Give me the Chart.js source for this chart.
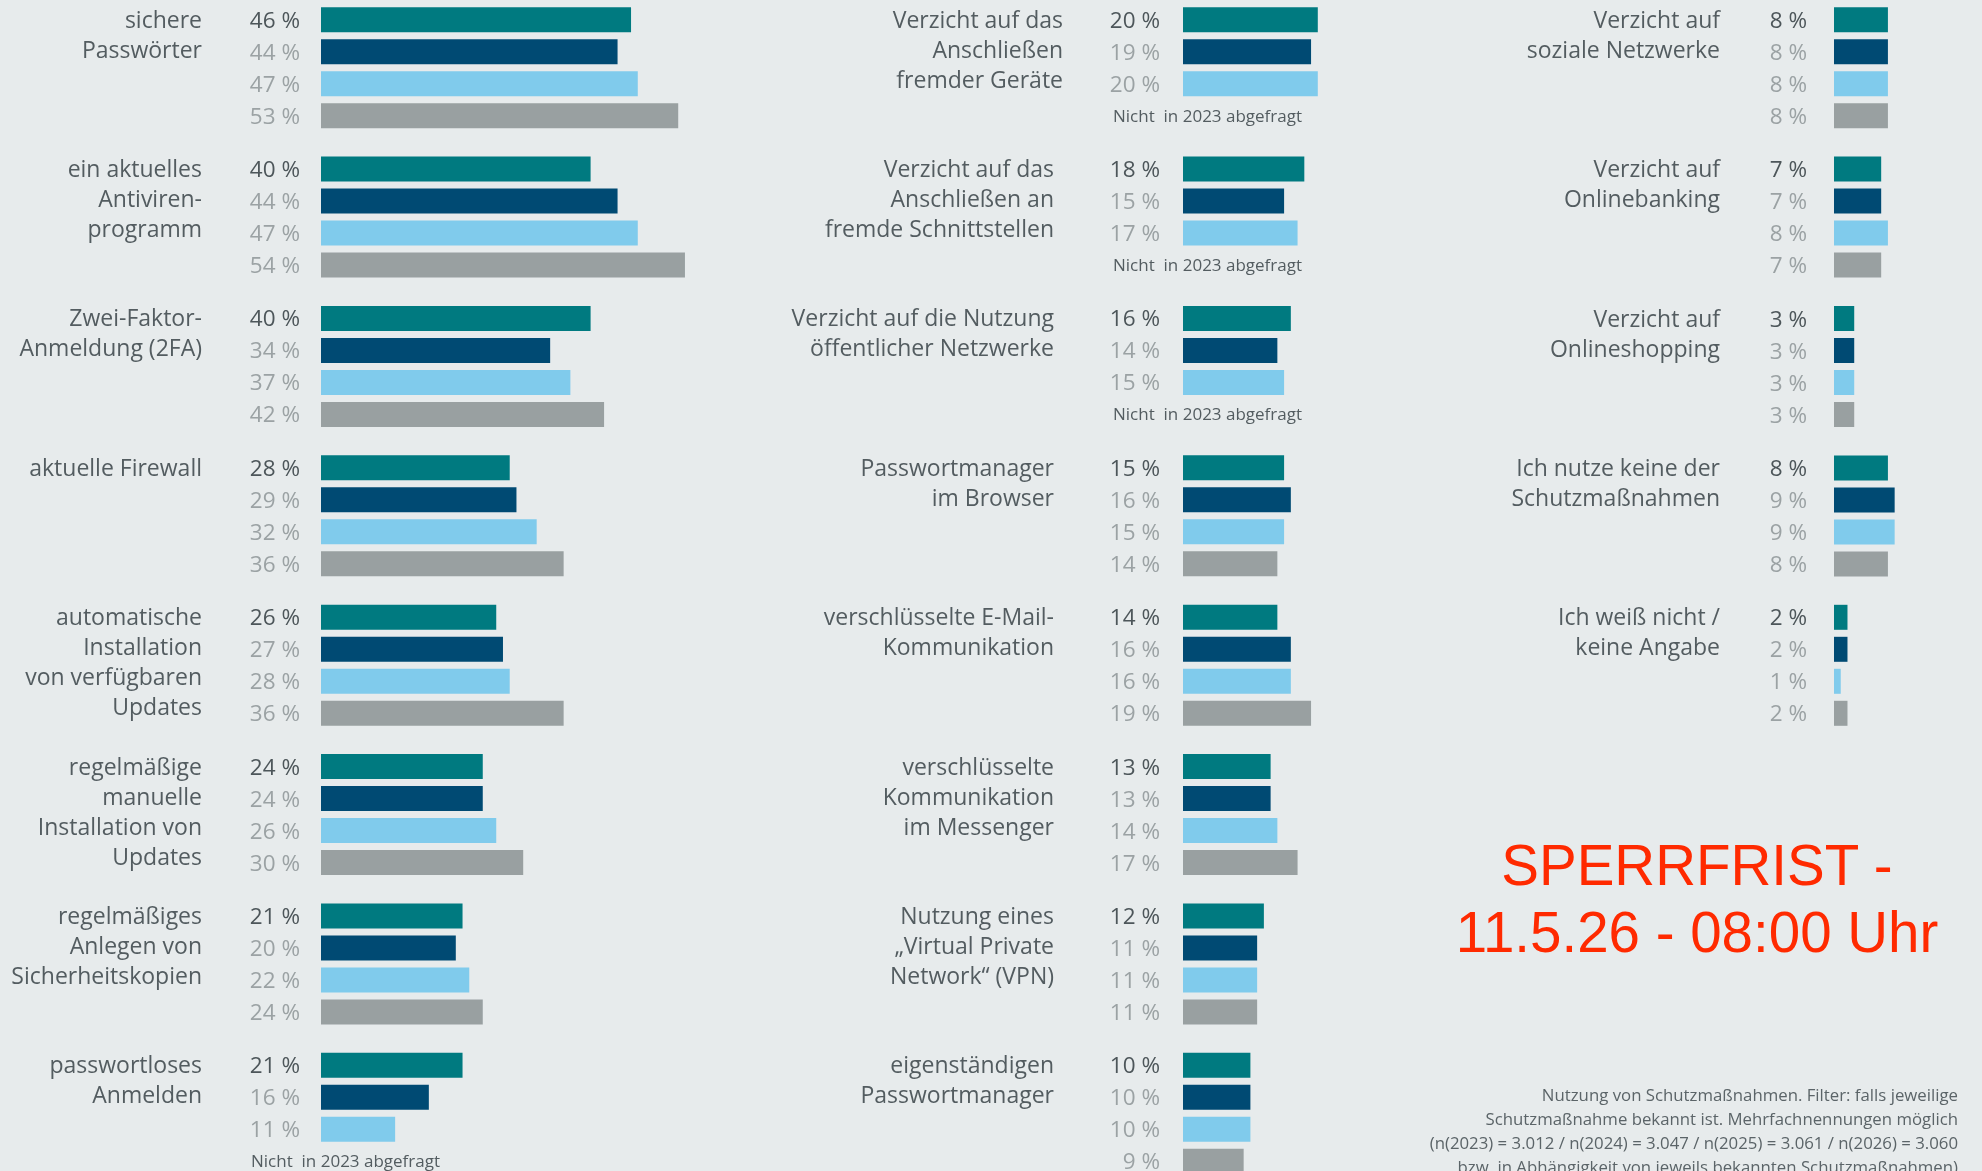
<!DOCTYPE html>
<html lang="de">
<head>
<meta charset="utf-8">
<title>Nutzung von Schutzmaßnahmen</title>
<script src="https://cdn.jsdelivr.net/npm/chart.js@4.4.1/dist/chart.umd.min.js"></script>
<style>
    html, body { margin: 0; padding: 0; }
    body {
        width: 1982px; height: 1171px; overflow: hidden;
        background: #e7ebec; position: relative;
        font-family: "Open Sans", sans-serif;
    }
    .col { position: absolute; top: -6.7px; }
    .sperrfrist {
        position: absolute; left: 1397px; top: 832px; width: 600px;
        text-align: center; color: #ff2a00;
        font-family: "Liberation Sans", Arial, sans-serif;
        font-size: 56.5px; line-height: 67px;
    }
    .footnote {
        position: absolute; right: 24px; top: 1083px;
        text-align: right; color: #5b6468;
        font-size: 16.8px; line-height: 24px; white-space: nowrap;
    }
</style>
</head>
<body>

<div class="col" id="wrap1" style="left:0px;width:725px;height:1195px"><canvas id="col1"></canvas></div>
<div class="col" id="wrap2" style="left:760px;width:693px;height:1195px"><canvas id="col2"></canvas></div>
<div class="col" id="wrap3" style="left:1480px;width:455px;height:747px"><canvas id="col3"></canvas></div>

<div class="sperrfrist">SPERRFRIST -<br>11.5.26 - 08:00 Uhr</div>

<div class="footnote">
    Nutzung von Schutzmaßnahmen. Filter: falls jeweilige<br>
    Schutzmaßnahme bekannt ist. Mehrfachnennungen möglich<br>
    (n(2023) = 3.012 / n(2024) = 3.047 / n(2025) = 3.061 / n(2026) = 3.060<br>
    bzw. in Abhängigkeit von jeweils bekannten Schutzmaßnahmen)
</div>

<script>
// ============================================
// Schutzmaßnahmen 2023–2026 — grouped bars
// ============================================

const YEARS = ['2026', '2025', '2024', '2023'];
const YEAR_COLORS = ['#007a80', '#004a73', '#80cbec', '#99a0a1'];
const NOTE_TEXT = 'Nicht  in 2023 abgefragt';

// --- column 1
const col1Labels = [
    ['sichere', 'Passwörter'],
    ['ein aktuelles', 'Antiviren-', 'programm'],
    ['Zwei-Faktor-', 'Anmeldung (2FA)'],
    ['aktuelle Firewall'],
    ['automatische', 'Installation', 'von verfügbaren', 'Updates'],
    ['regelmäßige', 'manuelle', 'Installation von', 'Updates'],
    ['regelmäßiges', 'Anlegen von', 'Sicherheitskopien'],
    ['passwortloses', 'Anmelden'],
];
const col1Values2026 = [46, 40, 40, 28, 26, 24, 21, 21];
const col1Values2025 = [44, 44, 34, 29, 27, 24, 20, 16];
const col1Values2024 = [47, 47, 37, 32, 28, 26, 22, 11];
const col1Values2023 = [53, 54, 42, 36, 36, 30, 24, null];

// --- column 2
const col2Labels = [
    ['Verzicht auf das', 'Anschließen', 'fremder Geräte'],
    ['Verzicht auf das', 'Anschließen an', 'fremde Schnittstellen'],
    ['Verzicht auf die Nutzung', 'öffentlicher Netzwerke'],
    ['Passwortmanager', 'im Browser'],
    ['verschlüsselte E-Mail-', 'Kommunikation'],
    ['verschlüsselte', 'Kommunikation', 'im Messenger'],
    ['Nutzung eines', '„Virtual Private', 'Network“ (VPN)'],
    ['eigenständigen', 'Passwortmanager'],
];
const col2Values2026 = [20, 18, 16, 15, 14, 13, 12, 10];
const col2Values2025 = [19, 15, 14, 16, 16, 13, 11, 10];
const col2Values2024 = [20, 17, 15, 15, 16, 14, 11, 10];
const col2Values2023 = [null, null, null, 14, 19, 17, 11, 9];

// --- column 3
const col3Labels = [
    ['Verzicht auf', 'soziale Netzwerke'],
    ['Verzicht auf', 'Onlinebanking'],
    ['Verzicht auf', 'Onlineshopping'],
    ['Ich nutze keine der', 'Schutzmaßnahmen'],
    ['Ich weiß nicht /', 'keine Angabe'],
];
const col3Values2026 = [8, 7, 3, 8, 2];
const col3Values2025 = [8, 7, 3, 9, 2];
const col3Values2024 = [8, 8, 3, 9, 1];
const col3Values2023 = [8, 7, 3, 8, 2];

const PX_PER_PCT = 6.74;
const LABEL_COLOR = '#535c60';
const VALUE_DARK = '#4d565a';
const VALUE_LIGHT = '#9ba2a4';

// draws group labels, value labels and the "not asked" notes
const groupLabelPlugin = {
    id: 'groupLabels',
    afterDatasetsDraw(chart, args, opts) {
        const ctx = chart.ctx;
        const left = chart.chartArea.left;
        const metas = chart.data.datasets.map((_, d) => chart.getDatasetMeta(d));
        ctx.save();
        chart.data.labels.forEach((lines, i) => {
            const y0 = metas[0].data[i].y;
            const pitch = metas[1].data[i].y - y0;
            const shift = (opts.firstShift && i === 0) ? opts.firstShift : 0;

            ctx.font = '23px "Open Sans"';
            ctx.fillStyle = LABEL_COLOR;
            ctx.textAlign = 'right';
            ctx.textBaseline = 'alphabetic';
            lines.forEach((ln, k) => ctx.fillText(ln, left + opts.labelOffset + shift, y0 + 8 + k * 30));

            chart.data.datasets.forEach((ds, d) => {
                const y = y0 + d * pitch;
                const v = ds.data[i];
                if (v === null) {
                    ctx.font = '17px "Open Sans"';
                    ctx.fillStyle = LABEL_COLOR;
                    ctx.textAlign = 'left';
                    ctx.fillText(NOTE_TEXT, left - 70, y + 6);
                    return;
                }
                ctx.font = '22.5px "Open Sans"';
                ctx.fillStyle = d === 0 ? VALUE_DARK : VALUE_LIGHT;
                ctx.textAlign = 'right';
                ctx.fillText(v + ' %', left - opts.valueGap, y + 8);
            });
        });
        ctx.restore();
    }
};

function renderColumn(canvasId, labels, series, padLeft, xMax, labelOptions) {
    const ctx = document.getElementById(canvasId);
    if (!ctx) return;
    new Chart(ctx, {
        type: 'bar',
        data: {
            labels: labels,
            datasets: YEARS.map((year, d) => ({
                label: year,
                data: series[d],
                backgroundColor: YEAR_COLORS[d],
                borderWidth: 0,
                categoryPercentage: 128 / 149.4,
                barPercentage: 25 / 32,
            }))
        },
        options: {
            indexAxis: 'y',
            responsive: true,
            maintainAspectRatio: false,
            animation: false,
            layout: { padding: { left: padLeft, right: 0, top: 0, bottom: 0 } },
            plugins: {
                legend: { display: false },
                tooltip: { enabled: false },
                groupLabels: labelOptions,
            },
            scales: {
                x: { display: false, min: 0, max: xMax },
                y: { display: false },
            }
        },
        plugins: [groupLabelPlugin]
    });
}

document.fonts.load('22px "Open Sans"').finally(() => {
    renderColumn('col1', col1Labels,
        [col1Values2026, col1Values2025, col1Values2024, col1Values2023],
        321, 404 / PX_PER_PCT, { labelOffset: -119, valueGap: 21 });
    renderColumn('col2', col2Labels,
        [col2Values2026, col2Values2025, col2Values2024, col2Values2023],
        423, 270 / PX_PER_PCT, { labelOffset: -129, valueGap: 23, firstShift: 9 });
    renderColumn('col3', col3Labels,
        [col3Values2026, col3Values2025, col3Values2024, col3Values2023],
        354, 101 / PX_PER_PCT, { labelOffset: -114, valueGap: 27 });
});
</script>
</body>
</html>
